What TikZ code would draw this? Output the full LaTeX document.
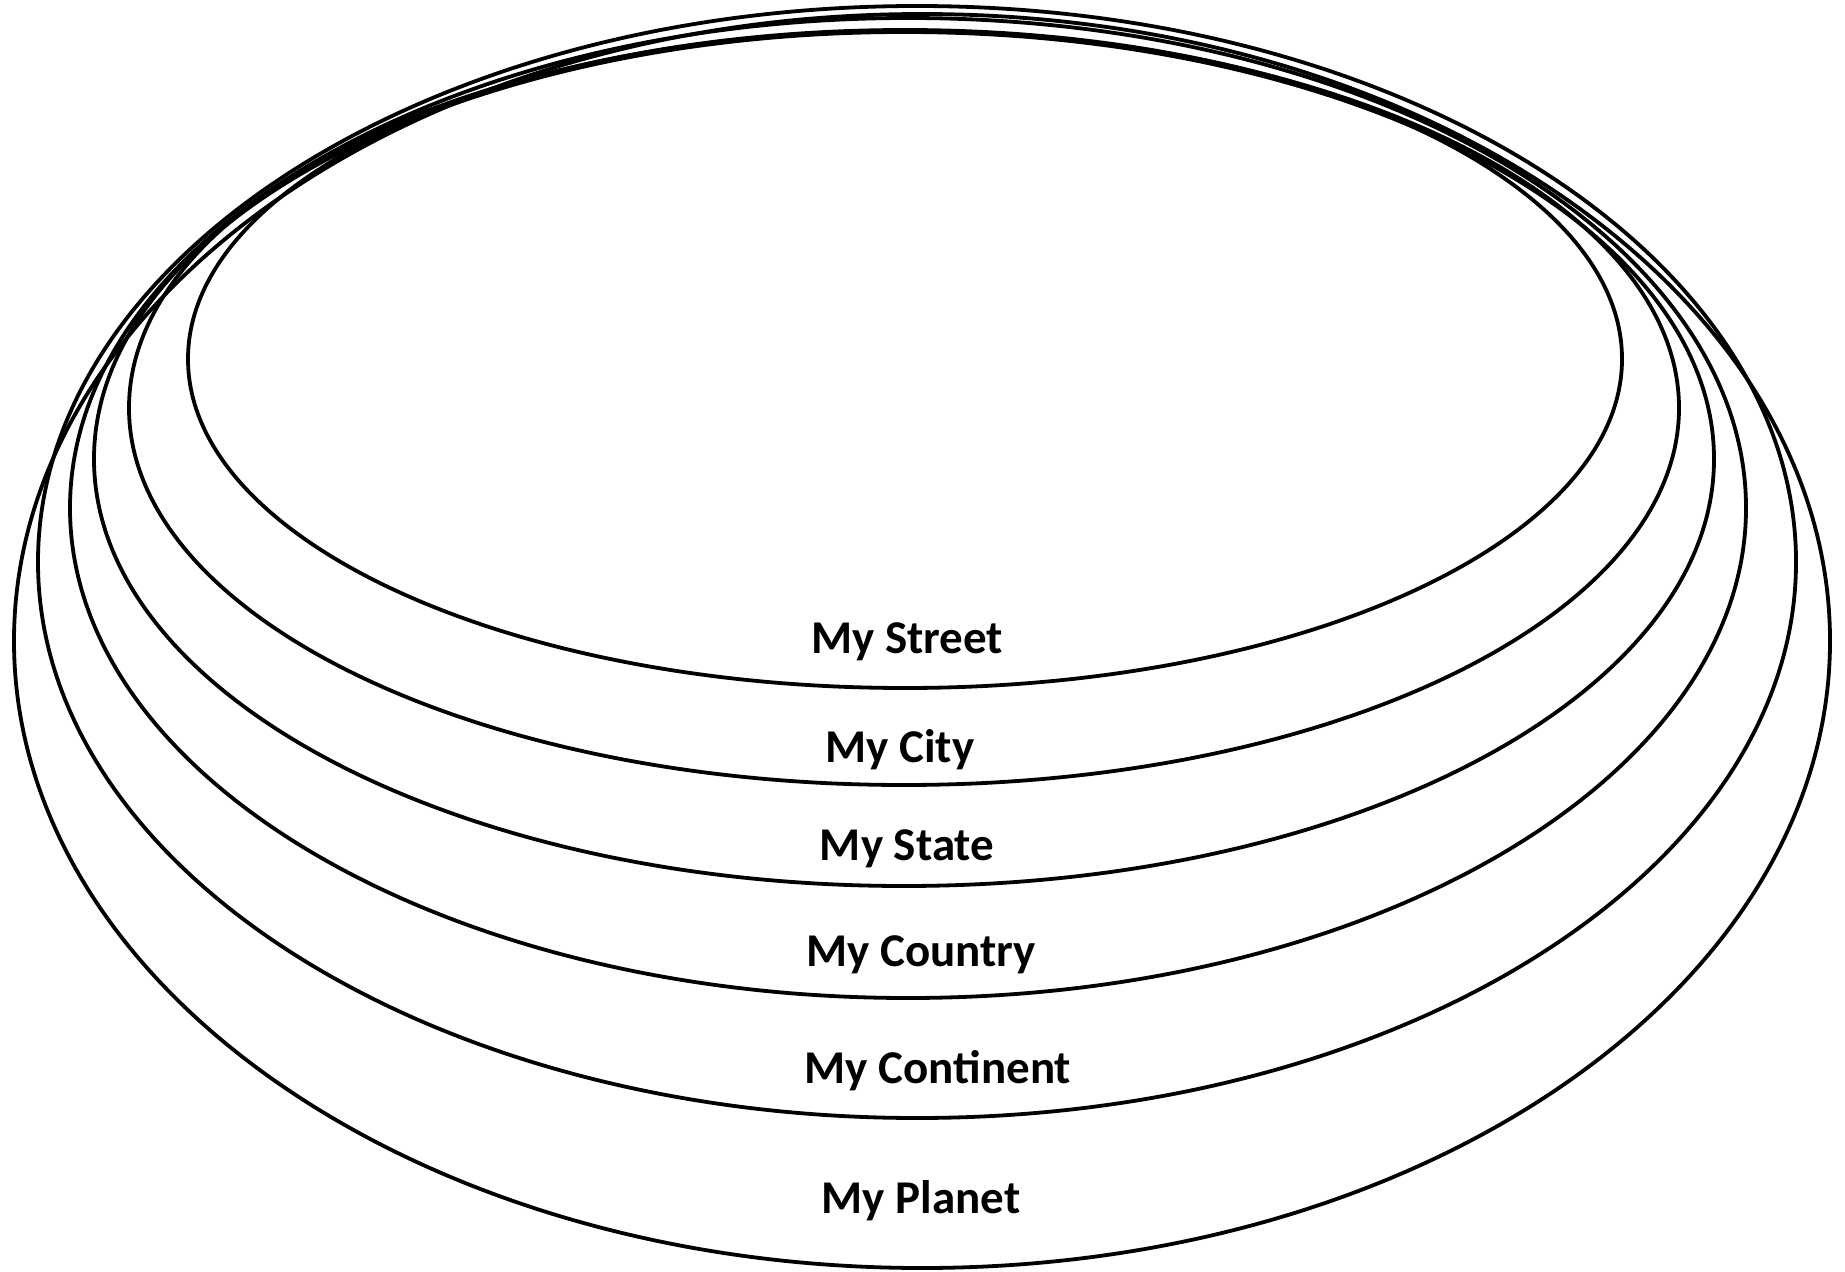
\documentclass[tikz,border=0pt]{standalone}
\usepackage{fontspec}
\setmainfont{Carlito}
\begin{document}
\begin{tikzpicture}[x=0.5pt, y=-0.5pt, ring/.style={line width=1.9pt}, lbl/.style={font=\bfseries\fontsize{23.5}{28}\selectfont, anchor=base, inner sep=0pt}]
\useasboundingbox (0,0) rectangle (1845,1272);
\draw[ring] (922,641) ellipse [x radius=908, y radius=627];
\draw[ring] (917,562) ellipse [x radius=879, y radius=556];
\draw[ring] (908,508) ellipse [x radius=838, y radius=490];
\draw[ring] (904,459) ellipse [x radius=810, y radius=427];
\draw[ring] (904,408) ellipse [x radius=775, y radius=377];
\draw[ring] (905,359) ellipse [x radius=717, y radius=329];

\node[lbl] (street) at (907,653) {My Street};
\node[lbl] (city) at (900,762) {My City};
\node[lbl] (state) at (907,860) {My State};
\node[lbl] (country) at (921,966) {My Country};
\node[lbl] (continent) at (938,1083) {My Continent};
\node[lbl] (planet) at (921,1213) {My Planet};
\end{tikzpicture}
\end{document}
